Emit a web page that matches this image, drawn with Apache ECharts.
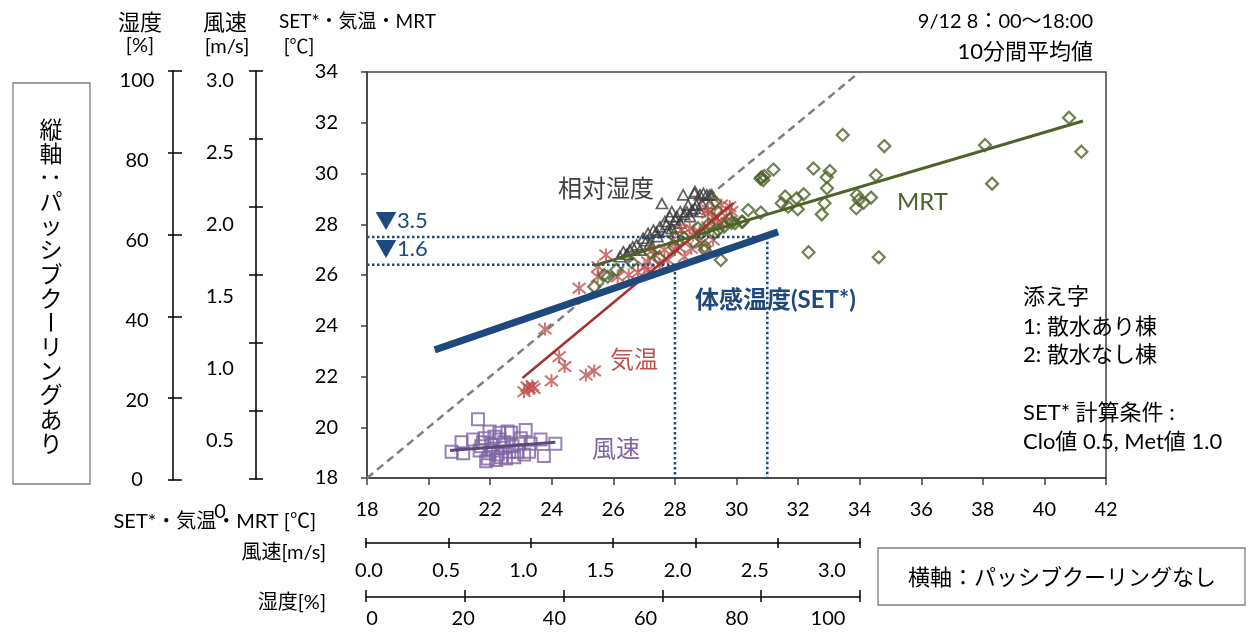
<!DOCTYPE html>
<html>
<head>
<meta charset="utf-8">
<script src="https://cdn.jsdelivr.net/npm/echarts@6/dist/echarts.min.js"></script>
<style>
  html, body { margin: 0; padding: 0; background: #fff; }
  #chart { width: 1251px; height: 632px; }
</style>
</head>
<body>
<div id="chart"></div>
<script>
// ---- axis scales ----
const tempRangeX = [18, 42];      // SET*・気温・MRT, no passive cooling [℃]
const tempRangeY = [18, 34];      // SET*・気温・MRT, with passive cooling [℃]
const tempStep = 2;
const humidityRange = [0, 100];   // 湿度 [%]
const humidityStep = 20;
const windRange = [0, 3];         // 風速 [m/s]
const windStep = 0.5;

// ---- 10-minute averages: x = building without, y = building with passive cooling ----
const mrtPoints = [
  [40.8, 32.2], [41.2, 30.86], [38.07, 31.12], [38.3, 29.6], [33.45, 31.52], [34.8, 31.08],
  [34.53, 29.93], [32.5, 30.2], [33.03, 30.1], [32.93, 29.85], [32.94, 29.42], [32.18, 29.18],
  [31.58, 29.09], [31.95, 29.02], [31.47, 28.83], [31.68, 28.69], [31.99, 28.59], [32.86, 28.83],
  [32.77, 28.39], [33.91, 29.15], [33.97, 28.96], [34.13, 28.85], [34.37, 29.05], [33.89, 28.63],
  [31.2, 30.16], [30.81, 29.85], [30.87, 29.74], [30.78, 29.8], [30.9, 29.9], [30.79, 28.46],
  [30.2, 28.1], [29.84, 28.05], [32.34, 26.9], [34.62, 26.7], [29.49, 26.59], [29.38, 28.5],
  [29.78, 28.2], [29.95, 28.04], [30.17, 28.1], [30.38, 28.56], [28.97, 26.99], [29.28, 27.65],
  [28.75, 27.84], [28.3, 27.46], [27.98, 27.1], [27.49, 26.67], [25.7, 26.0], [25.82, 25.93],
  [25.38, 25.54], [26.1, 26.2], [26.6, 26.5], [27.2, 26.9], [28.0, 27.5], [28.6, 27.3],
  [29.1, 28.0], [29.6, 27.9], [29.4, 27.77], [28.86, 27.65], [28.97, 27.12], [29.3, 28.9]
];
const airTempPoints = [
  [23.1, 21.4], [23.26, 21.53], [23.37, 21.63], [23.42, 21.53], [23.2, 21.6], [23.99, 21.83],
  [24.24, 22.78], [24.42, 22.39], [25.11, 22.06], [25.38, 22.22], [23.78, 23.87], [24.89, 25.48],
  [25.49, 25.93], [26.14, 25.93], [27.12, 26.2], [25.76, 26.79], [25.51, 26.33], [29.07, 28.43],
  [29.67, 28.3], [29.84, 28.5], [29.51, 28.04], [28.48, 27.84], [28.21, 27.77], [27.93, 27.38],
  [28.1, 27.12], [27.66, 26.99], [27.34, 26.79], [27.12, 26.52], [27.01, 26.33], [28.53, 27.05],
  [28.86, 27.25], [29.24, 27.38], [28.59, 27.58], [29.07, 27.9], [28.31, 26.72], [27.77, 26.59],
  [29.07, 28.56], [29.51, 28.76], [29.78, 28.69], [29.29, 28.3], [26.8, 26.1], [27.5, 26.4],
  [28.0, 27.0], [28.8, 27.7], [29.4, 28.1], [27.3, 27.0], [26.5, 26.0]
];
const humidityPoints = [
  [59.9, 67.6], [64.2, 69.7], [66.5, 70.1], [67.6, 69.7], [69.0, 69.7], [65.2, 67.2],
  [66.9, 67.2], [63.6, 65.6], [61.9, 65.6], [61.5, 64.4], [62.9, 64.4], [64.9, 65.6],
  [60.5, 63.2], [59.5, 61.9], [58.2, 61.1], [57.1, 60.3], [56.1, 59.1], [54.8, 57.5],
  [53.4, 56.2], [52.1, 55.8], [51.4, 54.6], [55.5, 56.2], [57.5, 57.9], [61.9, 61.5],
  [63.6, 62.8], [65.6, 64.4], [67.6, 65.6], [69.6, 67.6], [66.6, 66.4], [68.3, 70.1],
  [69.6, 69.7], [66.6, 70.5], [70.0, 69.7], [52.8, 55.2], [54.0, 57.0], [56.8, 58.5],
  [58.8, 60.6], [60.8, 62.4], [62.6, 63.6], [64.4, 64.9], [66.0, 66.0], [68.0, 67.5],
  [59.0, 59.5], [61.0, 60.8], [63.0, 61.8]
];
const windPoints = [
  [0.68, 0.44], [0.52, 0.20], [0.58, 0.27], [0.59, 0.19], [0.75, 0.35], [0.86, 0.35],
  [0.97, 0.36], [1.06, 0.29], [1.15, 0.26], [1.08, 0.17], [0.99, 0.20], [0.94, 0.30],
  [0.81, 0.29], [0.71, 0.27], [0.74, 0.15], [0.79, 0.14], [0.85, 0.15], [0.90, 0.16],
  [0.77, 0.21], [0.83, 0.23], [0.89, 0.24], [0.69, 0.21], [0.65, 0.29], [1.00, 0.26],
  [0.96, 0.18], [0.73, 0.13], [0.88, 0.34], [0.81, 0.34], [0.72, 0.30], [0.92, 0.20],
  [0.76, 0.25], [0.80, 0.18], [0.84, 0.27], [0.87, 0.20], [0.78, 0.31], [0.70, 0.24],
  [0.93, 0.26], [0.75, 0.19], [0.82, 0.16]
];

// ---- regression lines ----
const mrtFit = [[25.37, 26.37], [41.25, 32.07]];
const airTempFit = [[23.05, 21.94], [29.9, 28.84]];
const windFit = [[0.51, 0.21], [1.15, 0.27]];
const setFit = [[20.2, 23.05], [31.35, 27.7]];
const identityLine = [[18, 18], [34, 34]];

// SET* reduction read at two outdoor temperatures: [x, reduction]
const setReadings = [[28, 1.6], [31, 3.5]];

const FONT = "Lato, 'Noto Sans CJK JP', sans-serif";
const JP = "'Noto Sans CJK JP', Lato, sans-serif";
const BLUE = '#1F497D';

const noSplit = { show: false };
function tickAxis(o) {
  return Object.assign({
    type: 'value',
    splitLine: noSplit,
    axisLine: { show: false, onZero: false },
    axisTick: { show: false },
    axisLabel: { show: false }
  }, o);
}
const blackLine = { show: true, onZero: false, lineStyle: { color: '#000', width: 1.5 } };
const tick = (len, inside) => ({ show: true, inside: !!inside, length: len, lineStyle: { color: '#000', width: 1.5 } });
const labelStyle = (margin, fmt, extra) => Object.assign({
  show: true, margin: margin, fontSize: 20, color: '#000', fontFamily: FONT, formatter: fmt
}, extra || {});
const fmtInt = v => String(Math.round(v));
const fmt1 = v => v.toFixed(1);

const grids = [
  { left: 367, top: 72, width: 739, height: 406, show: true, borderColor: '#404040', borderWidth: 1.5, outerBoundsMode: 'none' }, // temperature
  { left: 366, top: 71, width: 494, height: 409, outerBoundsMode: 'none' },   // humidity
  { left: 366, top: 71, width: 494, height: 408, outerBoundsMode: 'none' },   // wind
  { left: 256, top: 81, width: 2, height: 431, outerBoundsMode: 'none' },     // wind y labels
  { left: 173, top: 81, width: 2, height: 399, outerBoundsMode: 'none' },     // humidity y labels
  { left: 369, top: 400, width: 463, height: 143, outerBoundsMode: 'none' },  // wind x labels
  { left: 372, top: 400, width: 456, height: 197, outerBoundsMode: 'none' }   // humidity x labels
];

const xAxes = [
  tickAxis({ gridIndex: 0, min: tempRangeX[0], max: tempRangeX[1], interval: tempStep, position: 'bottom',
    axisLine: { show: true, onZero: false, lineStyle: { color: '#404040', width: 1.5 } },
    axisTick: { show: true, length: 7, lineStyle: { color: '#404040', width: 1.5 } },
    axisLabel: labelStyle(22, fmtInt) }),
  tickAxis({ gridIndex: 1, min: humidityRange[0], max: humidityRange[1], interval: humidityStep, position: 'bottom', offset: 117,
    axisLine: blackLine, axisTick: tick(5) }),
  tickAxis({ gridIndex: 1, min: humidityRange[0], max: humidityRange[1], interval: humidityStep, position: 'bottom', offset: 117,
    axisTick: tick(7, true) }),
  tickAxis({ gridIndex: 2, min: windRange[0], max: windRange[1], interval: windStep, position: 'bottom', offset: 64,
    axisLine: blackLine, axisTick: tick(5) }),
  tickAxis({ gridIndex: 2, min: windRange[0], max: windRange[1], interval: windStep, position: 'bottom', offset: 64,
    axisTick: tick(5, true) }),
  tickAxis({ gridIndex: 3, show: false }),
  tickAxis({ gridIndex: 4, show: false }),
  tickAxis({ gridIndex: 5, min: windRange[0], max: windRange[1], interval: windStep, position: 'bottom',
    axisLabel: labelStyle(18, fmt1) }),
  tickAxis({ gridIndex: 6, min: humidityRange[0], max: humidityRange[1], interval: humidityStep, position: 'bottom',
    axisLabel: labelStyle(12, fmtInt) })
];

const yAxes = [
  tickAxis({ gridIndex: 0, min: tempRangeY[0], max: tempRangeY[1], interval: tempStep, position: 'left',
    axisLine: { show: true, onZero: false, lineStyle: { color: '#404040', width: 1.5 } },
    axisTick: { show: true, length: 6, lineStyle: { color: '#404040', width: 1.5 } },
    axisLabel: labelStyle(29, fmtInt) }),
  tickAxis({ gridIndex: 1, min: humidityRange[0], max: humidityRange[1], interval: humidityStep, position: 'left', offset: 193,
    axisLine: blackLine, axisTick: tick(5) }),
  tickAxis({ gridIndex: 1, min: humidityRange[0], max: humidityRange[1], interval: humidityStep, position: 'left', offset: 193,
    axisTick: tick(9, true) }),
  tickAxis({ gridIndex: 2, min: windRange[0], max: windRange[1], interval: windStep, position: 'left', offset: 110,
    axisLine: blackLine, axisTick: tick(7) }),
  tickAxis({ gridIndex: 2, min: windRange[0], max: windRange[1], interval: windStep, position: 'left', offset: 110,
    axisTick: tick(7, true) }),
  tickAxis({ gridIndex: 3, min: windRange[0], max: windRange[1], interval: windStep, position: 'left',
    axisLabel: labelStyle(36, v => (v === 0 ? '0' : v.toFixed(1)), { align: 'center' }) }),
  tickAxis({ gridIndex: 4, min: humidityRange[0], max: humidityRange[1], interval: humidityStep, position: 'left',
    axisLabel: labelStyle(36, fmtInt, { align: 'center' }) }),
  tickAxis({ gridIndex: 5, show: false }),
  tickAxis({ gridIndex: 6, show: false })
];

const hollow = (c, w) => ({ color: 'rgba(0,0,0,0)', borderColor: c, borderWidth: w });
const fitLine = (data, color, width, xi, yi, z) => ({
  type: 'line', data: data, xAxisIndex: xi, yAxisIndex: yi, symbol: 'none', silent: true, z: z,
  lineStyle: { color: color, width: width }
});

// dotted guides from each SET* reading to both axes
const guideSeries = setReadings.map(([x, d]) => ({
  type: 'line', xAxisIndex: 0, yAxisIndex: 0, symbol: 'none', silent: true, z: 3,
  data: [[tempRangeX[0], x - d], [x, x - d], [x, tempRangeY[0]]],
  lineStyle: { color: BLUE, width: 2.5, type: [2.5, 2.5] }
}));

const series = [
  { type: 'line', data: identityLine, xAxisIndex: 0, yAxisIndex: 0, symbol: 'none', silent: true, z: 1,
    lineStyle: { color: '#7f7f7f', width: 2.5, type: [8, 5] } },
  { type: 'scatter', name: '相対湿度', data: humidityPoints, xAxisIndex: 1, yAxisIndex: 1, z: 2,
    symbol: 'triangle', symbolSize: [11, 10], itemStyle: hollow('#3a3a3a', 1.7) },
  { type: 'scatter', name: '風速', data: windPoints, xAxisIndex: 3, yAxisIndex: 3, z: 2,
    symbol: 'rect', symbolSize: 12, itemStyle: hollow('#8064A2', 2) },
  fitLine(windFit, '#5F497A', 3, 3, 3, 4),
  { type: 'scatter', name: '気温', data: airTempPoints, xAxisIndex: 0, yAxisIndex: 0, z: 2,
    symbol: 'path://M1,1L9,9M9,1L1,9M5,0L5,10', symbolSize: 13,
    itemStyle: hollow('#C0504D', 2) },
  { type: 'scatter', name: 'MRT', data: mrtPoints, xAxisIndex: 0, yAxisIndex: 0, z: 2,
    symbol: 'diamond', symbolSize: 12, itemStyle: hollow('#4F6228', 2.2) },
  fitLine(airTempFit, '#A5312E', 2.5, 0, 0, 4),
  fitLine(mrtFit, '#4F6228', 3, 0, 0, 4),
  ...guideSeries,
  fitLine(setFit, BLUE, 7, 0, 0, 6)
];

const chart = echarts.init(document.getElementById('chart'), null, { renderer: 'canvas' });
chart.setOption({
  animation: false,
  backgroundColor: '#fff',
  textStyle: { fontFamily: FONT },
  grid: grids,
  xAxis: xAxes,
  yAxis: yAxes,
  series: series
});

// ---- text and frames ----
function text(t, x, y, size, opt) {
  opt = opt || {};
  return {
    type: 'text', x: x, y: y, silent: true, rotation: opt.rotation || 0,
    style: {
      text: t, fill: opt.color || '#000',
      font: (opt.bold ? 'bold ' : '') + size + 'px ' + (opt.family || FONT),
      align: opt.align || 'left', verticalAlign: opt.va || 'middle'
    }
  };
}
function box(x, y, w, h) {
  return { type: 'rect', silent: true, shape: { x: x, y: y, width: w, height: h },
    style: { fill: 'none', stroke: '#7f7f7f', lineWidth: 1.3 } };
}

const g = [
  text('湿度', 140, 22, 22, { align: 'center', family: JP }),
  text('[%]', 140, 46, 20, { align: 'center' }),
  text('風速', 225, 22, 22, { align: 'center', family: JP }),
  text('[m/s]', 227, 47, 20, { align: 'center' }),
  text('SET*・気温・MRT', 279, 22, 19),
  text('[℃]', 299, 47, 19, { align: 'center' }),
  text('9/12 8：00～18:00', 1093, 22, 20, { align: 'right' }),
  text('10分間平均値', 1093, 52, 22, { align: 'right' }),

  text('SET*・気温・MRT [℃]', 316, 522, 20, { align: 'right' }),
  text('風速[m/s]', 326, 553, 20, { align: 'right' }),
  text('湿度[%]', 326, 603, 20, { align: 'right' }),

  text('相対湿度', 558, 188, 24, { color: '#404040', family: JP }),
  text('MRT', 897, 202, 24, { color: '#4F6228' }),
  text('体感温度(SET*)', 695, 300, 24, { color: BLUE, bold: true }),
  text('気温', 610, 359, 24, { color: '#C0504D', family: JP }),
  text('風速', 592, 448, 24, { color: '#8064A2', family: JP }),

  text('添え字', 1023, 297, 22),
  text('1: 散水あり棟', 1023, 327, 22),
  text('2: 散水なし棟', 1023, 355, 22),
  text('SET* 計算条件 :', 1023, 413, 22),
  text('Clo値 0.5, Met値 1.0', 1023, 442, 22),

  box(13, 83, 77, 401),
  box(878, 548, 367, 57),
  text('横軸：パッシブクーリングなし', 1062, 577, 22, { align: 'center', family: JP })
];

// vertical caption, one character per line
const vChars = Array.from('縦軸：パッシブクーリングあり');
vChars.forEach((ch, i) => {
  const turn = (ch === 'ー' || ch === '：');
  g.push(text(ch, 51, 129 + i * 24.15, 23, { align: 'center', family: JP, rotation: turn ? -Math.PI / 2 : 0 }));
});

// reduction labels placed just above each dotted guide
setReadings.forEach(([x, d]) => {
  const p = chart.convertToPixel({ gridIndex: 0 }, [tempRangeX[0], x - d]);
  g.push(text('▼' + d.toFixed(1), p[0] + 8, p[1] - 5, 22, { color: BLUE, va: 'bottom' }));
});

chart.setOption({ graphic: g });
</script>
</body>
</html>
